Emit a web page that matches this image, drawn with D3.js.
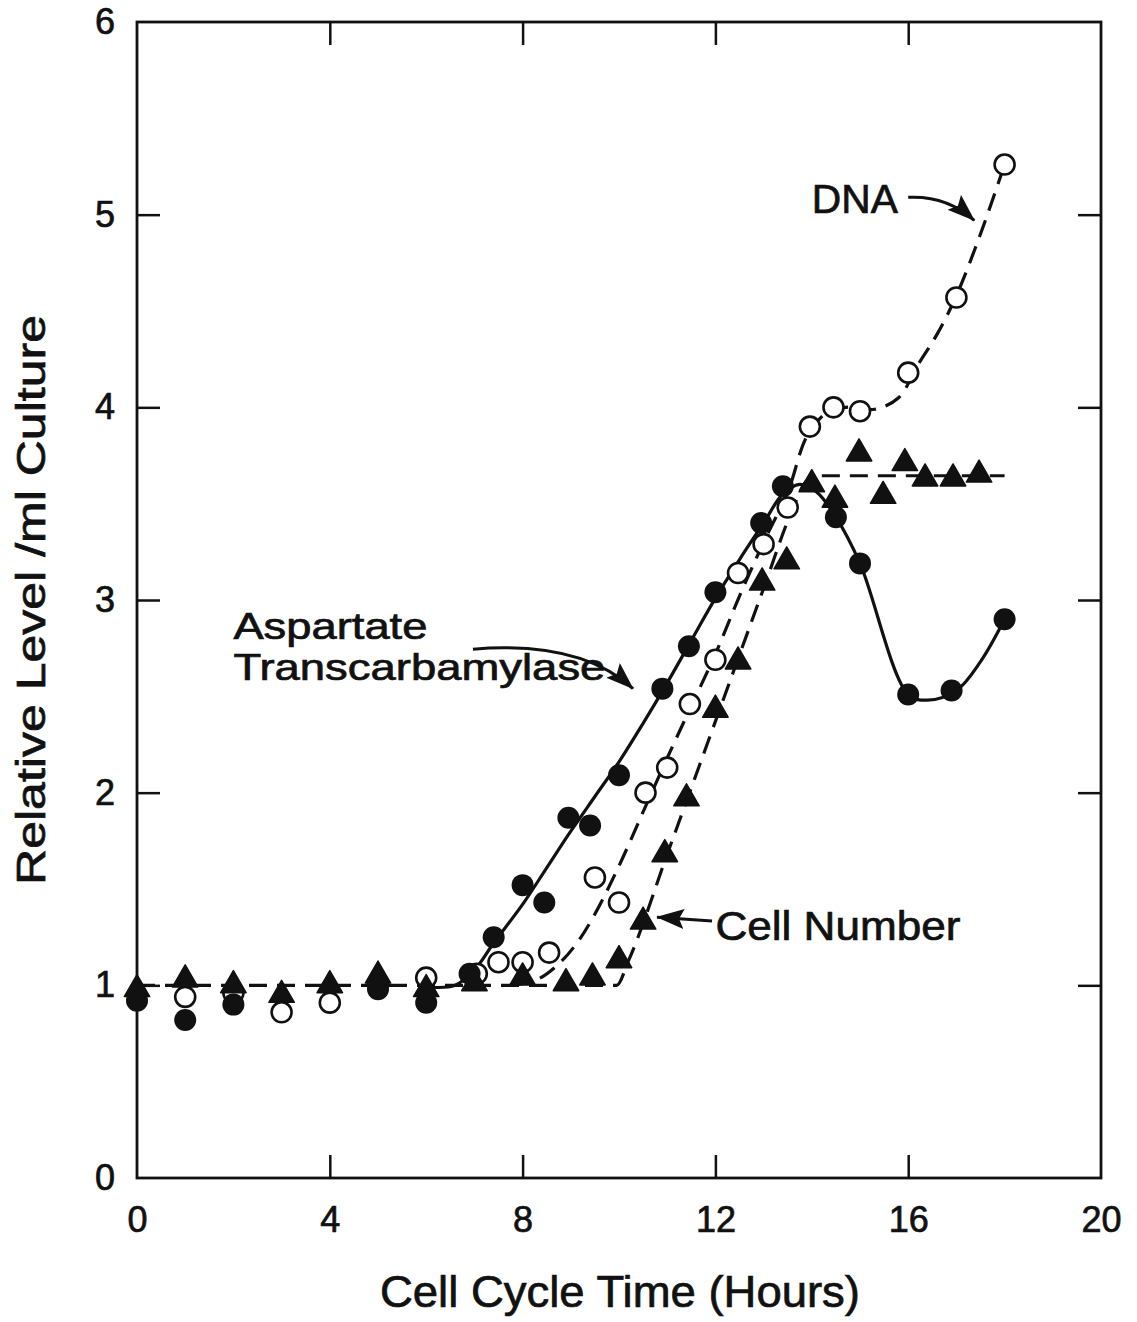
<!DOCTYPE html>
<html>
<head>
<meta charset="utf-8">
<script src="https://cdn.jsdelivr.net/npm/d3@7"></script>
<style>
  body { margin: 0; background: #fff; }
  text { font-family: "Liberation Sans", Arial, sans-serif; fill: #111; stroke: #111; stroke-width: 0.7px; }
</style>
</head>
<body>
<svg id="chart" width="1137" height="1322"></svg>
<script>
// ---- Measured points -------------------------------------------------------
// Aspartate transcarbamylase activity (filled circles)
const atcHours  = [0, 1, 2, 5, 6, 6.9, 7.4, 8.0, 8.45, 8.95, 9.4, 10.0, 10.9, 11.45, 12.0, 12.95, 13.4, 14.5, 15.0, 16.0, 16.9, 18.0];
const atcLevel  = [0.92, 0.82, 0.90, 0.98, 0.91, 1.06, 1.25, 1.52, 1.43, 1.87, 1.83, 2.09, 2.54, 2.76, 3.04, 3.40, 3.59, 3.43, 3.19, 2.51, 2.53, 2.90];

// DNA (open circles)
const dnaHours  = [1, 2, 3, 4, 5, 6, 7.05, 7.5, 8.0, 8.55, 9.5, 10.0, 10.55, 11.0, 11.47, 12.0, 12.47, 13.0, 13.5, 13.96, 14.45, 15.0, 16.0, 17.0, 18.0];
const dnaLevel  = [0.94, 0.96, 0.86, 0.91, 1.01, 1.04, 1.06, 1.12, 1.12, 1.17, 1.56, 1.43, 2.00, 2.13, 2.46, 2.69, 3.14, 3.29, 3.48, 3.90, 4.00, 3.98, 4.18, 4.57, 5.26];

// Cell number (filled triangles)
const cellHours = [0, 1, 2, 3, 4, 5, 6, 7, 8, 8.9, 9.45, 10.0, 10.5, 10.95, 11.4, 12.0, 12.47, 12.97, 13.48, 14.0, 14.48, 14.98, 15.48, 15.93, 16.35, 16.93, 17.47];
const cellLevel = [0.98, 1.03, 1.00, 0.95, 1.00, 1.05, 0.98, 1.01, 1.04, 1.01, 1.04, 1.13, 1.33, 1.68, 1.97, 2.43, 2.68, 3.09, 3.20, 3.60, 3.52, 3.76, 3.54, 3.71, 3.63, 3.63, 3.65];

// ---- Hand-fitted curves -----------------------------------------------------
const atcFitHours  = [6.1, 6.6, 7.0, 7.4, 8.0, 8.5, 9.0, 9.5, 10.0, 10.5, 11.0, 11.5, 12.0, 12.5, 13.0, 13.4, 13.75, 14.1, 14.5, 15.0, 16.0, 16.4, 17.0, 17.5, 18.0];
const atcFitLevel  = [0.99, 1.00, 1.08, 1.22, 1.42, 1.61, 1.80, 1.98, 2.16, 2.36, 2.57, 2.79, 3.01, 3.21, 3.40, 3.55, 3.60, 3.56, 3.43, 3.19, 2.51, 2.48, 2.53, 2.68, 2.90];

const dnaFitHours  = [7.8, 8.3, 8.7, 9.1, 9.5, 10.0, 10.5, 11.0, 11.5, 12.0, 12.5, 13.0, 13.5, 13.9, 14.3, 14.7, 15.3, 15.8, 16.2, 16.6, 17.0, 17.5, 18.0];
const dnaFitLevel  = [1.00, 1.03, 1.10, 1.21, 1.37, 1.62, 1.90, 2.18, 2.45, 2.72, 3.02, 3.30, 3.56, 3.85, 3.97, 4.00, 3.99, 4.05, 4.22, 4.38, 4.58, 4.90, 5.26];

const cellFitHours = [0, 9.95, 10.2, 11.0, 12.0, 13.0, 13.6, 13.9, 14.2, 18.0];
const cellFitLevel = [1.00, 1.00, 1.13, 1.68, 2.37, 3.06, 3.47, 3.62, 3.645, 3.645];

// ---- Axis ticks -------------------------------------------------------------
const xTickValues = [0, 4, 8, 12, 16, 20];
const xInnerTicks = [4, 8, 12, 16];
const yTickValues = [0, 1, 2, 3, 4, 5, 6];
const yInnerTicks = [1, 2, 3, 4, 5];

const xTitle = "Cell Cycle Time (Hours)";
const yTitle = "Relative Level /ml Culture";

// ---- Layout -----------------------------------------------------------------
const svg = d3.select("#chart");
const plot = { left: 137, right: 1101, top: 22, bottom: 1178 };
const x = d3.scaleLinear().domain([0, 20]).range([plot.left, plot.right]);
const y = d3.scaleLinear().domain([0, 6]).range([plot.bottom, plot.top]);
const ink = "#111";
const tickLen = 23;

// arrowhead marker
const defs = svg.append("defs");
defs.append("marker")
  .attr("id", "head")
  .attr("markerUnits", "userSpaceOnUse")
  .attr("markerWidth", 30).attr("markerHeight", 22)
  .attr("refX", 27).attr("refY", 10)
  .attr("orient", "auto")
  .append("path")
  .attr("d", "M0,0 L28,10 L0,20 L5,10 Z")
  .attr("fill", ink);

// ---- Axes (inward ticks on all four sides) ----------------------------------
const axisStyle = g => {
  g.select(".domain").remove();
  g.selectAll(".tick line").attr("stroke", ink).attr("stroke-width", 2.5);
  g.selectAll(".tick text").attr("fill", ink).style("font-size", "36px")
    .style("font-family", "'Liberation Sans', Arial, sans-serif");
};

svg.append("g")
  .attr("transform", `translate(0,${plot.bottom})`)
  .call(d3.axisBottom(x).tickValues(xTickValues).tickSize(0).tickPadding(28).tickFormat(d3.format("d")))
  .call(axisStyle);
svg.append("g")
  .attr("transform", `translate(0,${plot.bottom})`)
  .call(d3.axisBottom(x).tickValues(xInnerTicks).tickSize(-tickLen).tickFormat(""))
  .call(axisStyle);
svg.append("g")
  .attr("transform", `translate(0,${plot.top})`)
  .call(d3.axisTop(x).tickValues(xInnerTicks).tickSize(-tickLen).tickFormat(""))
  .call(axisStyle);
svg.append("g")
  .attr("transform", `translate(${plot.left},0)`)
  .call(d3.axisLeft(y).tickValues(yTickValues).tickSize(0).tickPadding(22).tickFormat(d3.format("d")))
  .call(axisStyle);
svg.append("g")
  .attr("transform", `translate(${plot.left},0)`)
  .call(d3.axisLeft(y).tickValues(yInnerTicks).tickSize(-tickLen).tickFormat(""))
  .call(axisStyle);
svg.append("g")
  .attr("transform", `translate(${plot.right},0)`)
  .call(d3.axisRight(y).tickValues(yInnerTicks).tickSize(-tickLen).tickFormat(""))
  .call(axisStyle);

// frame
svg.append("rect")
  .attr("x", plot.left).attr("y", plot.top)
  .attr("width", plot.right - plot.left).attr("height", plot.bottom - plot.top)
  .attr("fill", "none").attr("stroke", ink).attr("stroke-width", 2.8);

// axis titles
svg.append("text")
  .attr("x", (plot.left + plot.right) / 2 + 1).attr("y", 1307)
  .attr("text-anchor", "middle")
  .attr("textLength", 480).attr("lengthAdjust", "spacingAndGlyphs")
  .style("font-size", "44px")
  .text(xTitle);
svg.append("text")
  .attr("transform", `translate(45,${(plot.top + plot.bottom) / 2}) rotate(-90)`)
  .attr("text-anchor", "middle")
  .attr("textLength", 570).attr("lengthAdjust", "spacingAndGlyphs")
  .style("font-size", "40px")
  .text(yTitle);

// ---- Curves -----------------------------------------------------------------
const zip = (xs, ys) => xs.map((h, i) => [h, ys[i]]);
const line = d3.line().x(d => x(d[0])).y(d => y(d[1])).curve(d3.curveCatmullRom.alpha(0.5));
const lineCell = d3.line().x(d => x(d[0])).y(d => y(d[1])).curve(d3.curveMonotoneX);

svg.append("path")
  .attr("d", lineCell(zip(cellFitHours, cellFitLevel)))
  .attr("fill", "none").attr("stroke", ink).attr("stroke-width", 3.2)
  .attr("stroke-dasharray", "18 10");
svg.append("path")
  .attr("d", line(zip(dnaFitHours, dnaFitLevel)))
  .attr("fill", "none").attr("stroke", ink).attr("stroke-width", 3.2)
  .attr("stroke-dasharray", "18 10");
svg.append("path")
  .attr("d", line(zip(atcFitHours, atcFitLevel)))
  .attr("fill", "none").attr("stroke", ink).attr("stroke-width", 3.2);

// ---- Points -----------------------------------------------------------------
svg.append("g").selectAll("circle")
  .data(zip(dnaHours, dnaLevel)).join("circle")
  .attr("cx", d => x(d[0])).attr("cy", d => y(d[1])).attr("r", 10)
  .attr("fill", "#fff").attr("stroke", ink).attr("stroke-width", 2.6);

const tri = d3.symbol().type(d3.symbolTriangle).size(280);
svg.append("g").selectAll("path")
  .data(zip(cellHours, cellLevel)).join("path")
  .attr("transform", d => `translate(${x(d[0])},${y(d[1])})`)
  .attr("d", tri)
  .attr("fill", ink).attr("stroke", ink).attr("stroke-width", 1.5).attr("stroke-linejoin", "round");

svg.append("g").selectAll("circle")
  .data(zip(atcHours, atcLevel)).join("circle")
  .attr("cx", d => x(d[0])).attr("cy", d => y(d[1])).attr("r", 11)
  .attr("fill", ink);

// ---- Annotations ------------------------------------------------------------
const label = (txt, h, v, len, size) => svg.append("text")
  .attr("x", x(h)).attr("y", y(v))
  .attr("textLength", len).attr("lengthAdjust", "spacingAndGlyphs")
  .style("font-size", size + "px")
  .text(txt);

label("DNA", 14.0, 5.01, 86, 40);
label("Aspartate", 2.0, 2.797, 194, 36);
label("Transcarbamylase", 2.0, 2.584, 372, 36);
label("Cell Number", 12.0, 1.235, 245, 40);

const arrow = pts => {
  const p = pts.map(d => [x(d[0]), y(d[1])]);
  const d = p.length === 3
    ? `M${p[0][0]},${p[0][1]} Q${p[1][0]},${p[1][1]} ${p[2][0]},${p[2][1]}`
    : `M${p[0][0]},${p[0][1]} L${p[1][0]},${p[1][1]}`;
  svg.append("path").attr("d", d)
    .attr("fill", "none").attr("stroke", ink).attr("stroke-width", 3)
    .attr("marker-end", "url(#head)");
};
arrow([[16.0, 5.09], [16.8, 5.10], [17.37, 4.97]]);
arrow([[6.97, 2.745], [9.2, 2.79], [10.29, 2.54]]);
arrow([[11.93, 1.334], [10.79, 1.354]]);
</script>
</body>
</html>
